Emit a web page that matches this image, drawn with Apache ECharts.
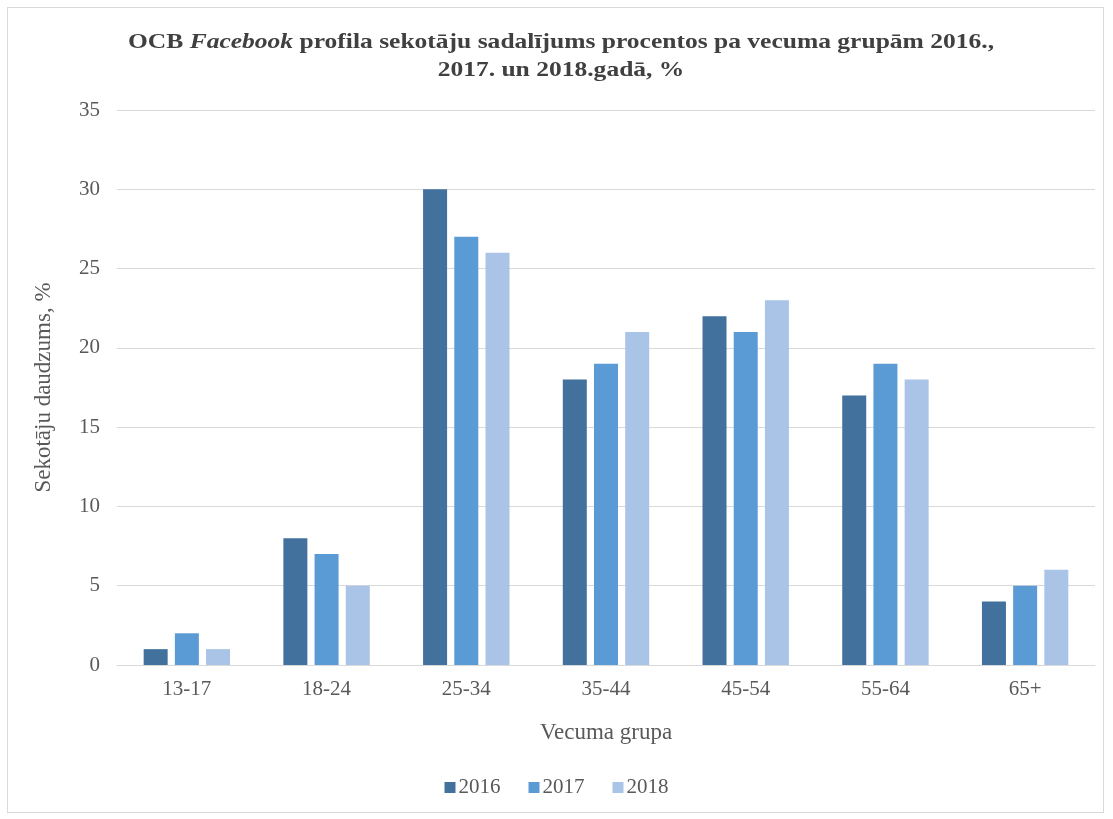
<!DOCTYPE html>
<html>
<head>
<meta charset="utf-8">
<script src="https://cdn.jsdelivr.net/npm/echarts@6/dist/echarts.min.js"></script>
<style>
html,body{margin:0;padding:0;background:#fff;}
#frame{position:absolute;left:7px;top:7px;width:1097px;height:806px;border:1px solid #d9d9d9;box-sizing:border-box;}
#chart{position:absolute;left:0;top:0;width:1113px;height:819px;}
</style>
</head>
<body>
<div id="frame"></div>
<div id="chart"></div>
<script>
const categories = ['13-17','18-24','25-34','35-44','45-54','55-64','65+'];
const seriesNames = ['2016','2017','2018'];
const values2016 = [1, 8, 30, 18, 22, 17, 4];
const values2017 = [2, 7, 27, 19, 21, 19, 5];
const values2018 = [1, 5, 26, 21, 23, 18, 6];
const yTicks = [0,5,10,15,20,25,30,35];
const titleLine1 = ['OCB ', 'Facebook', ' profila sekotāju sadalījums procentos pa vecuma grupām 2016.,'];
const titleLine2 = '2017. un 2018.gadā, %';

const colors = ['#41719c','#5b9bd5','#a9c4e6'];
const font = '"Liberation Serif","Times New Roman",serif';

const chart = echarts.init(document.getElementById('chart'));
const allValues = [values2016, values2017, values2018];
const tStyle = {fontFamily:font,fontSize:22,fontWeight:'bold',fill:'#404040',lineHeight:28};
chart.setOption({
  animation:false,
  backgroundColor:'transparent',
  color: colors,
  graphic:[{
    type:'text', x:561, y:28, scaleX:1.16, silent:true,
    style:{
      text:'{b|'+titleLine1[0]+'}{i|'+titleLine1[1]+'}{b|'+titleLine1[2]+'}\n{b|'+titleLine2+'}',
      align:'center', verticalAlign:'top',
      fontFamily:font, fontSize:22, fontWeight:'bold', fill:'#404040', lineHeight:28,
      rich:{
        b:tStyle,
        i:Object.assign({}, tStyle, {fontStyle:'italic'})
      }
    }
  }],
  legend:{
    bottom:16, left:'center',
    itemWidth:11, itemHeight:11, itemGap:28,
    icon:'rect',
    textStyle:{fontFamily:font,fontSize:21,color:'#595959',padding:[0,0,0,-2]},
    data: seriesNames
  },
  grid:{left:117,right:18,top:110,bottom:154,containLabel:false},
  xAxis:{
    type:'category', data:categories,
    name:'Vecuma grupa', nameLocation:'middle', nameGap:56,
    nameTextStyle:{fontFamily:font,fontSize:23,color:'#595959'},
    axisLine:{lineStyle:{color:'#d9d9d9',width:1}},
    axisTick:{show:false},
    axisLabel:{fontFamily:font,fontSize:21,color:'#595959',margin:14}
  },
  yAxis:{
    type:'value', min:yTicks[0], max:yTicks[yTicks.length-1], interval:5,
    name:'Sekotāju daudzums, %', nameLocation:'middle', nameGap:62,
    nameTextStyle:{fontFamily:font,fontSize:23,color:'#595959'},
    axisLine:{show:false}, axisTick:{show:false},
    axisLabel:{fontFamily:font,fontSize:21,color:'#595959',margin:17},
    splitLine:{lineStyle:{color:'#d9d9d9',width:1}}
  },
  series: seriesNames.map((n,i)=>({
    name:n, type:'bar', data:allValues[i],
    barWidth:24, barGap:'30%',
    itemStyle:{color:colors[i]}
  }))
});
</script>
</body>
</html>
